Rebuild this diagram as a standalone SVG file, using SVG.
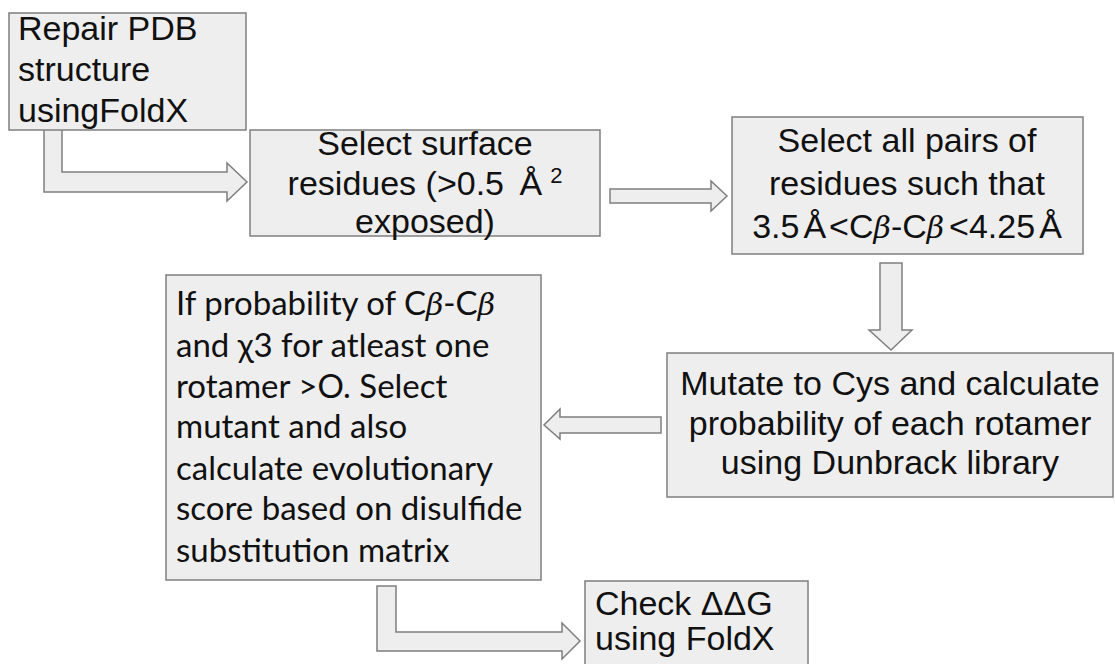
<svg xmlns="http://www.w3.org/2000/svg" width="1115" height="664" viewBox="0 0 1115 664">
<style>
.box{fill:#eeeeee;stroke:#7f7f7f;stroke-width:1.5}
.arr{fill:#eeeeee;stroke:#7f7f7f;stroke-width:1.5;stroke-linejoin:miter}
.t{font-family:"Liberation Sans",Arial,sans-serif;font-size:34px;fill:#111}
.c{text-anchor:middle}
.l{font-family:Lato,"Open Sans",sans-serif;font-size:33px;fill:#111}
.b{font-family:"DejaVu Serif","Liberation Serif",serif;font-style:italic;font-size:30px}
</style>
<rect width="1115" height="664" fill="#ffffff"/>
<g id="connectors">
<path class="arr" d="M44,127 L62,127 L62,172 L227,172 L227,163 L247,182 L227,201 L227,192 L44,192 Z"/>
<path class="arr" d="M610,189 L711,189 L711,181 L727,196 L711,211 L711,203 L610,203 Z"/>
<path class="arr" d="M880,263 L902,263 L902,330 L912,330 L891,350 L869,330 L880,330 Z"/>
<path class="arr" d="M661,417 L661,433 L560,433 L560,439 L544,425 L560,409 L560,417 Z"/>
<path class="arr" d="M377,586 L396,586 L396,632 L562,632 L562,623 L580,641 L562,659 L562,651 L377,651 Z"/>
</g>
<g id="node-repair">
<rect class="box" x="9" y="13" width="237" height="117"/>
<text class="t" x="18" y="40">Repair PDB</text>
<text class="t" x="18" y="81">structure</text>
<text class="t" x="18" y="122">usingFoldX</text>
</g>
<g id="node-surface">
<rect class="box" x="250" y="130" width="350" height="106"/>
<text class="t c" x="425" y="155">Select surface</text>
<text class="t c" x="425" y="195">residues (&gt;0.5 <tspan dx="6">Å</tspan><tspan dx="8" dy="-12" font-size="22">2</tspan></text>
<text class="t c" x="425" y="233">exposed)</text>
</g>
<g id="node-pairs">
<rect class="box" x="732" y="117" width="351" height="137"/>
<text class="t c" x="907" y="152">Select all pairs of</text>
<text class="t c" x="907" y="195">residues such that</text>
<text class="t c" x="907" y="238">3.5<tspan dx="4">Å</tspan><tspan dx="3">&lt;C</tspan><tspan class="b">β</tspan>-C<tspan class="b">β</tspan><tspan dx="5">&lt;4.25</tspan><tspan dx="4">Å</tspan></text>
</g>
<g id="node-mutate">
<rect class="box" x="667" y="353" width="446" height="144"/>
<text class="t c" x="890" y="395">Mutate to Cys and calculate</text>
<text class="t c" x="890" y="435">probability of each rotamer</text>
<text class="t c" x="890" y="474">using Dunbrack library</text>
</g>
<g id="node-select">
<rect class="box" x="166" y="275" width="375" height="305"/>
<text class="l" x="176" y="315">If probability of C<tspan class="b">β</tspan>-C<tspan class="b">β</tspan></text>
<text class="l" x="176" y="357">and χ3 for atleast one</text>
<text class="l" x="176" y="398">rotamer &gt;O. Select</text>
<text class="l" x="176" y="438">mutant and also</text>
<text class="l" x="176" y="480">calculate evolutionary</text>
<text class="l" x="176" y="520">score based on disulfide</text>
<text class="l" x="176" y="562">substitution matrix</text>
</g>
<g id="node-check">
<rect class="box" x="585" y="581" width="223" height="100"/>
<text class="t" x="595" y="615">Check ΔΔG</text>
<text class="t" x="595" y="650">using FoldX</text>
</g>
</svg>
